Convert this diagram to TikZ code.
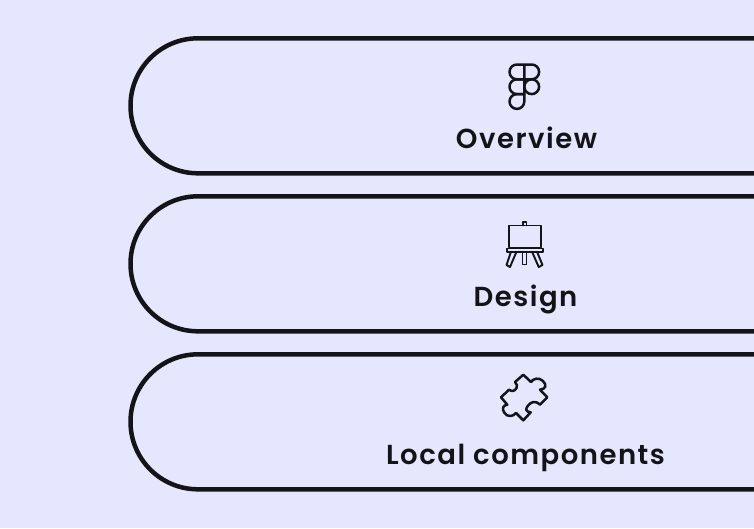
\documentclass[tikz,border=0pt]{standalone}
\usepackage{fontspec}
\setmainfont{Poppins}[BoldFont={Poppins SemiBold},LetterSpace=5.5]
\definecolor{bgpage}{HTML}{E6E6FF}
\definecolor{inkdark}{HTML}{141416}
\tikzset{
pill/.style={draw=inkdark,line width=4.5pt},
icon/.style={draw=inkdark,line width=2.5pt,line join=round,line cap=round},
easel/.style={icon,line width=1.9pt},
title/.style={text=inkdark,font=\fontsize{27.5pt}{32pt}\selectfont\bfseries,anchor=base,inner sep=0pt}
}
\begin{document}
\begin{tikzpicture}[x=1pt,y=-1pt,line join=round]
\fill[bgpage](0,0) rectangle (754,528);
\useasboundingbox (0,0) rectangle (754,528);
% three rows
\foreach \y in {38.3,196.3,354.3}{
\draw[pill](760,\y)--(198,\y) arc[start angle=90,end angle=270,x radius=67.5,y radius=-67.5] --(760,\y+135);}
\node[title] (overview) at (526.5,148) {Overview};
\node[title] (design) at (525.5,306) {Design};
\node[title] (local) at (525.5,464) {Local components};
% figma
\draw[icon](524.3,64.5)--(516.9,64.5) arc[start angle=-90,end angle=-270,radius=7.4] --(524.3,79.3)--(524.3,64.5)--(531.7,64.5) arc[start angle=-90,end angle=90,radius=7.4]--(524.3,79.3);
\draw[icon](524.3,79.3)--(516.9,79.3) arc[start angle=-90,end angle=-270,radius=7.4] --(524.3,94.1)--(524.3,79.3);
\draw[icon](531.7,86.7) circle (7.4);
\draw[icon](524.3,94.1)--(516.9,94.1) arc[start angle=-90,end angle=-270,radius=7.4] arc[start angle=90,end angle=0,radius=7.4]--(524.3,94.1);
% easel
\draw[easel](509,225.5) rectangle (540.7,247.5);
\draw[easel](523,225.5)--(523,222)--(526.5,222)--(526.5,225.5);
\draw[easel](507,248.5) rectangle (542.7,251.7);
\draw[easel](511,251.7)--(506.5,265)--(510,267)--(516.5,251.7);
\draw[easel](537,251.7)--(542.5,265)--(538.7,267)--(532,251.7);
\draw[easel](522.5,251.7)--(522.5,264.5)--(526.5,264.5)--(526.5,251.7);
% puzzle
\draw[icon](501,397.3)--(509,389.7)
.. controls (512,392) and (515,391) .. (516.5,388)
.. controls (517.5,386) and (517,384) .. (515,382)
--(523.3,374.7)--(531,382)
.. controls (533,378.5) and (539,377) .. (543,381)
.. controls (547,385) and (546,389) .. (540,389.7)
--(547.3,397.3)--(540,404.7)
.. controls (535,400) and (531,402) .. (528,405.5)
.. controls (525,409) and (526,412) .. (530.7,412.3)
--(523.3,420.3)--(516,413)
.. controls (513,417) and (507,417) .. (504.5,413)
.. controls (501.5,409) and (503,405) .. (507.3,404.7)
--cycle;
\end{tikzpicture}
\end{document}
